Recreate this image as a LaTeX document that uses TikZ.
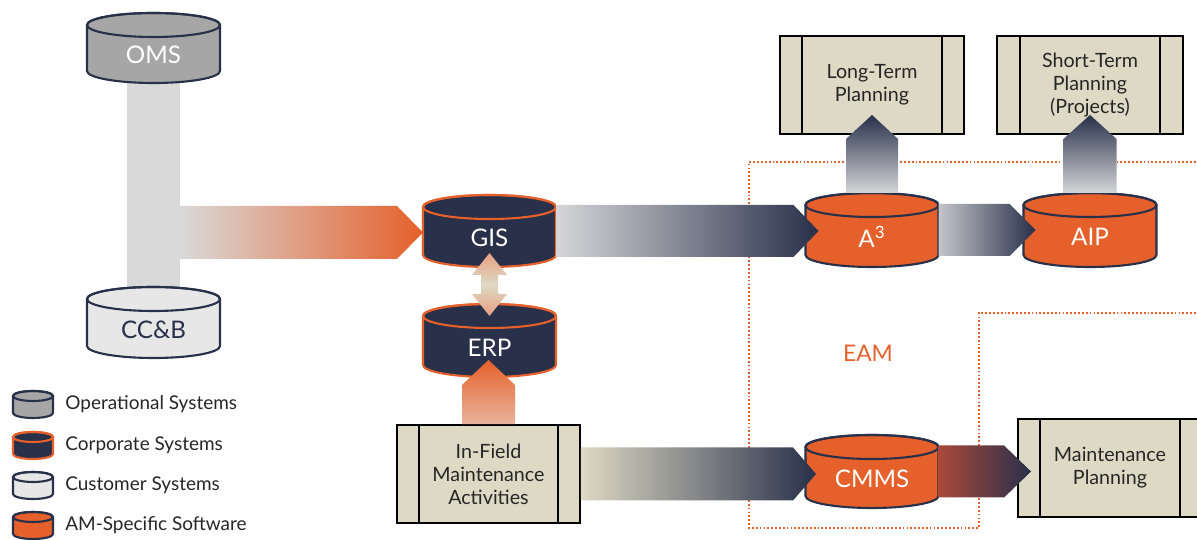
\documentclass[tikz,border=0pt]{standalone}
\usepackage{fontspec}
\setmainfont{Lato}
\usetikzlibrary{calc}
\pgfdeclarelayer{back}
\pgfsetlayers{back,main}

\definecolor{navy}{RGB}{40,48,74}
\definecolor{amorange}{RGB}{229,96,42}
\definecolor{opgrey}{RGB}{166,166,166}
\definecolor{custgrey}{RGB}{231,231,232}
\definecolor{busgrey}{RGB}{217,217,217}
\definecolor{procbeige}{RGB}{221,217,196}
\definecolor{inktext}{RGB}{38,38,38}
\definecolor{arrowgrey}{RGB}{214,214,216}
\definecolor{maintred}{RGB}{170,72,58}
\definecolor{salmon}{RGB}{233,180,158}
\definecolor{paleorange}{RGB}{232,160,128}

% database cylinder: name, centre, width, height, cap radius, fill, border, line width
\newcommand\dbcyl[8]{%
  \node[inner sep=0pt,outer sep=0pt,minimum width={#3*0.02cm},minimum height={#4*0.02cm}] (#1) at (#2) {};
  \path[fill=#6,draw=#7,line width=#8,line join=round]
    ($(#1.north west)+(0,-#5)$) -- ($(#1.south west)+(0,#5)$)
    arc[start angle=180,end angle=360,x radius=#3/2,y radius=#5]
    -- ($(#1.north east)+(0,-#5)$)
    arc[start angle=0,end angle=180,x radius=#3/2,y radius=#5] -- cycle;
  \draw[#7,line width=#8] ($(#1.north)+(0,-#5)$) ellipse[x radius=#3/2,y radius=#5];
}

% process box with side strips: name, centre, width, strip width, text
\newcommand\procbox[5]{%
  \node[procnode,minimum width={#3*0.02cm}] (#1) at (#2) {#5};
  \draw[line width=1.1pt] ($(#1.north west)+(#4,0)$) -- ($(#1.south west)+(#4,0)$)
        ($(#1.north east)+(-#4,0)$) -- ($(#1.south east)+(-#4,0)$);
}

% flat horizontal block arrow: start, tip, half height, head length, shading
\newcommand\harrow[5]{%
  \coordinate (ha-tip) at (#2 |- #1);
  \shade[#5] ($(#1)+(0,#3)$) -- ($(ha-tip)+(-#4,#3)$) -- (ha-tip)
    -- ($(ha-tip)+(-#4,-#3)$) -- ($(#1)+(0,-#3)$) -- cycle;
}

% flat upward block arrow: start, tip, half width, head length, shading
\newcommand\varrow[5]{%
  \coordinate (va-tip) at (#1 |- #2);
  \shade[#5] ($(#1)+(-#3,0)$) -- ($(va-tip)+(-#3,-#4)$) -- (va-tip)
    -- ($(va-tip)+(#3,-#4)$) -- ($(#1)+(#3,0)$) -- cycle;
}

\begin{document}
\begin{tikzpicture}[x=0.02cm,y=0.02cm,
  cyllabel/.style={inner sep=0pt,font=\fontsize{13.8}{16}\selectfont},
  procnode/.style={draw=black,fill=procbeige,line width=1.1pt,minimum height={98*0.02cm},
    inner sep=0pt,align=center,text=inktext,font=\fontsize{11.2}{13}\selectfont},
  legendtext/.style={anchor=west,inner sep=0pt,text=inktext,font=\fontsize{10.8}{13}\selectfont},
  eamline/.style={draw=amorange,line width=1.1pt,dash pattern=on 1pt off 1.2pt}]
\useasboundingbox (0,0) rectangle (1197,540);

% EAM boundary
\draw[eamline] (1215,378) -- (749,378) -- (749,12) -- (979,12) -- (979,227) -- (1215,227);
\node[text=amorange,inner sep=0pt,font=\fontsize{13}{15}\selectfont] (eam) at (868,187) {EAM};

% systems
\dbcyl{oms}{153.5,492}{133}{70}{12}{opgrey}{navy}{1.2pt}
\dbcyl{ccb}{153.5,217.5}{133}{71}{12}{custgrey}{navy}{1.2pt}
\dbcyl{gis}{489.5,309}{133}{72}{12}{navy}{amorange}{1.2pt}
\dbcyl{erp}{489.5,199.5}{133}{73}{12}{navy}{amorange}{1.2pt}
\dbcyl{a3}{872,310}{133}{74}{12}{amorange}{navy}{1.2pt}
\dbcyl{aip}{1090,310}{133}{74}{12}{amorange}{navy}{1.2pt}
\dbcyl{cmms}{872,68.5}{133}{73}{12}{amorange}{navy}{1.2pt}

\node[cyllabel,text=white] (oms-t) at ($(oms)+(0,-7)$) {OMS};
\node[cyllabel,text=navy] (ccb-t) at ($(ccb)+(0,-7)$) {CC\&B};
\node[cyllabel,text=white] (gis-t) at ($(gis)+(0,-7)$) {GIS};
\node[cyllabel,text=white] (erp-t) at ($(erp)+(0,-7)$) {ERP};
\node[cyllabel,text=white] (a3-t) at ($(a3)+(0,-7)$) {A\textsuperscript{3}};
\node[cyllabel,text=white] (aip-t) at ($(aip)+(0,-7)$) {AIP};
\node[cyllabel,text=white] (cmms-t) at ($(cmms)+(0,-7)$) {CMMS};

% processes
\procbox{lt}{872,455}{184}{23}{Long-Term\\Planning}
\procbox{st}{1090,455}{186}{24}{Short-Term\\Planning\\(Projects)}
\procbox{inf}{488.5,66}{183}{23}{In-Field\\Maintenance\\Activities}
\procbox{mp}{1110,72}{184}{23}{Maintenance\\Planning}

% OMS / CC&B bus
\begin{pgfonlayer}{back}
  \fill[busgrey] ($(oms.center)+(-26.5,0)$) rectangle ($(ccb.center)+(26.5,0)$);
\end{pgfonlayer}
\coordinate (busJ) at (oms.center |- gis.west);
\coordinate (busR) at ($(busJ)+(26.5,-1.5)$);

% tips of the flows
\coordinate (gisIn) at (gis.west);
\coordinate (a3In) at ($(a3.west)+(13,0)$);
\coordinate (aipIn) at ($(aip.west)+(12,0)$);
\coordinate (cmmsIn) at ($(cmms.west)+(10.5,0)$);
\coordinate (mpIn) at ($(mp.west)+(14,0)$);
\coordinate (ltIn) at ($(lt.south)+(0,20)$);
\coordinate (stIn) at ($(st.south)+(0,20)$);
\coordinate (erpIn) at ($(erp.south)+(0,17)$);

% flows
\harrow{busR}{gisIn}{26.5}{26}{left color=busgrey,middle color=busgrey!65!amorange,right color=amorange}
\harrow{gis.east}{a3In}{26}{25}{left color=arrowgrey,middle color=arrowgrey!72!navy,right color=navy}
\harrow{a3.east}{aipIn}{26}{26}{left color=arrowgrey!90!navy,middle color=arrowgrey!55!navy,right color=navy}
\harrow{inf.east}{cmmsIn}{26.5}{23}{left color=procbeige,middle color=procbeige!70!navy,right color=navy}
\harrow{cmms.east}{mpIn}{26}{27}{left color=maintred,right color=navy}
\varrow{a3.north}{ltIn}{26}{24}{top color=navy,bottom color=arrowgrey}
\varrow{aip.north}{stIn}{26.5}{24}{top color=navy,bottom color=arrowgrey}
\varrow{inf.north}{erpIn}{26.5}{25}{top color=amorange,bottom color=salmon}

% GIS <-> ERP exchange
\coordinate (dT) at ($(gis.south)+(0,14)$);
\coordinate (dB) at ($(erp.north)+(0,-12)$);
\shade[top color=paleorange,bottom color=paleorange,middle color=procbeige]
  (dT) -- ($(dT)+(17.5,-22)$) -- ($(dT)+(8.5,-22)$) -- ($(dB)+(8.5,22)$)
  -- ($(dB)+(17.5,22)$) -- (dB) -- ($(dB)+(-17.5,22)$) -- ($(dB)+(-8.5,22)$)
  -- ($(dT)+(-8.5,-22)$) -- ($(dT)+(-17.5,-22)$) -- cycle;

% legend
\dbcyl{lg1}{33,135.5}{40}{27}{5}{opgrey}{navy}{1.2pt}
\dbcyl{lg2}{33,94.5}{40}{27}{5}{navy}{amorange}{1.2pt}
\dbcyl{lg3}{33,54.5}{40}{27}{5}{custgrey}{navy}{1.2pt}
\dbcyl{lg4}{33,14.5}{40}{27}{5}{amorange}{navy}{1.2pt}
\node[legendtext] (lg1-t) at (65,136) {Operational Systems};
\node[legendtext] (lg2-t) at (65,95) {Corporate Systems};
\node[legendtext] (lg3-t) at (65,55) {Customer Systems};
\node[legendtext] (lg4-t) at (65,15) {AM-Specific Software};
\end{tikzpicture}
\end{document}
